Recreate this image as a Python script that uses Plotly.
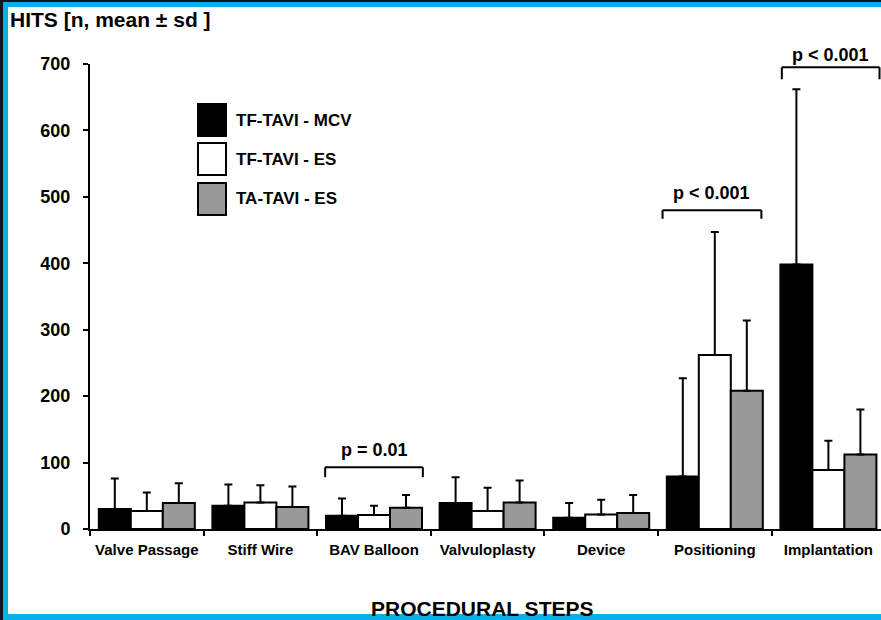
import plotly.graph_objects as go

# Procedural steps and HITS (mean, sd) per group
steps = ["Valve Passage", "Stiff Wire", "BAV Balloon", "Valvuloplasty",
         "Device", "Positioning", "Implantation"]

tf_mcv_mean = [30, 35, 20, 39, 17, 79, 398]
tf_mcv_sd = [46, 32, 26, 39, 22, 148, 264]

tf_es_mean = [27, 40, 21, 27, 22, 262, 89]
tf_es_sd = [28, 26, 14, 35, 22, 185, 44]

ta_es_mean = [39, 33, 32, 40, 24, 208, 112]
ta_es_sd = [30, 31, 19, 33, 27, 106, 68]

group_names = ["TF-TAVI - MCV", "TF-TAVI - ES", "TA-TAVI - ES"]
group_colors = ["#000000", "#ffffff", "#999999"]

p_labels = ["p = 0.01", "p < 0.001", "p < 0.001"]
p_steps = ["BAV Balloon", "Positioning", "Implantation"]

Y_MAX = 700
W, H = 881, 620
ML, MR, MT, MB = 90, 0, 64, 91
PW = W - ML - MR
PH = H - MT - MB
FONT = "Liberation Sans, Arial, sans-serif"


def px_x(px):
    return (px - ML) / PW


def px_y(py):
    return (H - MB - py) / PH


fig = go.Figure()
for name, color, mean, sd in zip(group_names, group_colors,
                                 [tf_mcv_mean, tf_es_mean, ta_es_mean],
                                 [tf_mcv_sd, tf_es_sd, ta_es_sd]):
    fig.add_trace(go.Bar(
        x=steps, y=mean, name=name, showlegend=False,
        marker=dict(color=color, line=dict(color="#000000", width=2)),
        error_y=dict(type="data", symmetric=False, array=sd,
                     arrayminus=[0] * len(sd), color="#000000",
                     thickness=2, width=4),
    ))

shapes = []
annotations = []

# significance brackets over the compared groups
bracket_geom = [(-0.43, 0.43, 93, 78, 119),
                (-0.46, 0.41, 480, 467, 506),
                (-0.41, 0.45, 695, 677, 714)]
for label, step, (dx0, dx1, ytop, yend, ytxt) in zip(p_labels, p_steps, bracket_geom):
    i = steps.index(step)
    x0, x1 = i + dx0, i + dx1
    line = dict(color="#000000", width=2)
    shapes += [
        dict(type="line", xref="x", yref="y", x0=x0, x1=x1, y0=ytop, y1=ytop, line=line),
        dict(type="line", xref="x", yref="y", x0=x0, x1=x0, y0=ytop, y1=yend, line=line),
        dict(type="line", xref="x", yref="y", x0=x1, x1=x1, y0=ytop, y1=yend, line=line),
    ]
    # label placed in paper units so it may sit above the axis range
    annotations.append(dict(xref="x", yref="paper", x=(x0 + x1) / 2, y=ytxt / Y_MAX,
                            text=label, showarrow=False, xanchor="center", yanchor="middle",
                            font=dict(family=FONT, size=18, color="#000000", weight="bold")))

# legend boxes with labels
legend_rows = [(104, 136), (143, 175), (183, 215)]
for name, color, (t, b) in zip(group_names, group_colors, legend_rows):
    shapes.append(dict(type="rect", xref="paper", yref="paper",
                       x0=px_x(198), x1=px_x(226), y0=px_y(b), y1=px_y(t),
                       fillcolor=color, line=dict(color="#000000", width=2)))
    annotations.append(dict(xref="paper", yref="paper", x=px_x(234), y=px_y((t + b) / 2),
                            text=name, showarrow=False, xanchor="left", yanchor="middle",
                            font=dict(family=FONT, size=17, color="#000000", weight="bold")))

# frame on the left, top and bottom edges
cyan = "#0aaee8"
dark = "#0b1a22"
shapes += [
    dict(type="rect", xref="paper", yref="paper", x0=px_x(0), x1=px_x(3),
         y0=px_y(H), y1=px_y(0), fillcolor=dark, line=dict(width=0), layer="above"),
    dict(type="rect", xref="paper", yref="paper", x0=px_x(3), x1=px_x(8),
         y0=px_y(H), y1=px_y(0), fillcolor=cyan, line=dict(width=0), layer="above"),
    dict(type="rect", xref="paper", yref="paper", x0=px_x(3), x1=px_x(W),
         y0=px_y(2), y1=px_y(0), fillcolor=dark, line=dict(width=0), layer="above"),
    dict(type="rect", xref="paper", yref="paper", x0=px_x(3), x1=px_x(W),
         y0=px_y(7), y1=px_y(2), fillcolor=cyan, line=dict(width=0), layer="above"),
    dict(type="rect", xref="paper", yref="paper", x0=px_x(3), x1=px_x(W),
         y0=px_y(H), y1=px_y(614), fillcolor=cyan, line=dict(width=0), layer="above"),
]

annotations += [
    dict(xref="paper", yref="paper", x=px_x(8), y=px_y(19), text="HITS [n, mean ± sd ]",
         showarrow=False, xanchor="left", yanchor="middle",
         font=dict(family=FONT, size=21, color="#000000", weight="bold")),
    dict(xref="paper", yref="paper", x=px_x(482), y=px_y(608), text="PROCEDURAL STEPS",
         showarrow=False, xanchor="center", yanchor="middle",
         font=dict(family=FONT, size=21, color="#000000", weight="bold")),
]

fig.update_layout(
    width=W, height=H,
    margin=dict(l=ML, r=MR, t=MT, b=MB, pad=0),
    paper_bgcolor="#ffffff", plot_bgcolor="#ffffff",
    barmode="group", bargap=0.155, bargroupgap=0,
    shapes=shapes, annotations=annotations,
    font=dict(family=FONT, color="#000000"),
    xaxis=dict(type="category", range=[-0.5, 6.463], showgrid=False,
               showline=True, linecolor="#000000", linewidth=2,
               ticks="outside", tickson="boundaries", ticklen=5, tickwidth=2,
               tickcolor="#000000", ticklabelstandoff=6,
               tickfont=dict(family=FONT, size=15, color="#000000", weight="bold")),
    yaxis=dict(range=[0, Y_MAX], tickvals=[0, 100, 200, 300, 400, 500, 600, 700],
               showgrid=False, zeroline=False, showline=True, linecolor="#000000",
               linewidth=2, ticks="outside", ticklen=5, tickwidth=2,
               tickcolor="#000000", ticklabelstandoff=9,
               tickfont=dict(family=FONT, size=18, color="#000000", weight="bold")),
)

fig.write_html("out.html")
